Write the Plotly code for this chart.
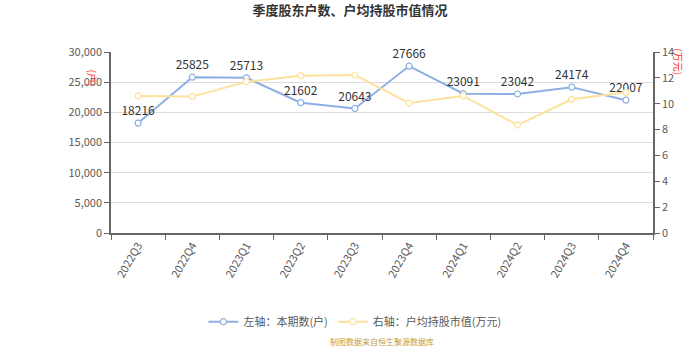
import plotly.graph_objects as go

quarters = ["2022Q3", "2022Q4", "2023Q1", "2023Q2", "2023Q3",
            "2023Q4", "2024Q1", "2024Q2", "2024Q3", "2024Q4"]
holders = [18216, 25825, 25713, 21602, 20643, 27666, 23091, 23042, 24174, 22007]
avg_value = [10.6, 10.55, 11.7, 12.17, 12.22, 10.05, 10.6, 8.35, 10.34, 10.88]

FONT = "Noto Sans CJK SC"
BLUE = "#8cafe3"
YELLOW = "#fde29b"
TICK = "#5a5a5a"

fig = go.Figure()
fig.add_trace(go.Scatter(
    x=quarters, y=holders, name="左轴：本期数(户)",
    mode="lines+markers+text", text=[str(v) for v in holders],
    textposition="top center", textfont=dict(size=12, color="#333333"),
    line=dict(color=BLUE, width=2),
    marker=dict(symbol="circle", size=6, color="white", line=dict(color=BLUE, width=1.2)),
    yaxis="y", cliponaxis=False,
))
fig.add_trace(go.Scatter(
    x=quarters, y=avg_value, name="右轴：户均持股市值(万元)",
    mode="lines+markers",
    line=dict(color=YELLOW, width=2),
    marker=dict(symbol="circle", size=6, color="white", line=dict(color=YELLOW, width=1.2)),
    yaxis="y2",
))

fig.update_layout(
    width=700, height=350,
    margin=dict(l=111, r=47, t=52, b=117),
    paper_bgcolor="white", plot_bgcolor="white",
    font=dict(family=FONT, size=11, color=TICK),
    title=dict(text="<b>季度股东户数、户均持股市值情况</b>", x=0.5, xanchor="center",
               y=0.97, yanchor="middle", font=dict(size=13, color="#333333")),
    xaxis=dict(
        type="category", range=[-0.5, 9.5], tickson="boundaries",
        ticks="outside", ticklen=5, tickcolor="#666666",
        showline=True, linecolor="#666666", linewidth=1.5,
        tickangle=-60, showgrid=False, automargin=False,
        tickfont=dict(size=11, color=TICK),
    ),
    yaxis=dict(
        range=[0, 30000], dtick=5000, tickformat=",",
        ticks="outside", ticklen=5, tickcolor="#666666",
        showline=True, linecolor="#666666", linewidth=1.5,
        showgrid=True, gridcolor="#dddddd", gridwidth=1,
        zeroline=False, automargin=False, tickfont=dict(size=11, color=TICK),
    ),
    yaxis2=dict(
        range=[0, 14], dtick=2, overlaying="y", side="right",
        ticks="outside", ticklen=5, tickcolor="#666666",
        showline=True, linecolor="#666666", linewidth=1.5,
        showgrid=False, zeroline=False, automargin=False,
        tickfont=dict(size=11, color=TICK),
    ),
    legend=dict(orientation="h", x=0.45, xanchor="center", y=-0.49, yanchor="middle",
                font=dict(size=11, color=TICK), itemwidth=30),
    showlegend=True,
)

# Axis unit labels, rotated, in red
fig.add_annotation(text="(户)", xref="paper", yref="paper", x=-0.052, y=0.915,
                   showarrow=False, textangle=90, font=dict(size=10, color="#ff3333"))
fig.add_annotation(text="(万元)", xref="paper", yref="paper", x=1.065, y=1.03,
                   showarrow=False, textangle=90, font=dict(size=10, color="#ff3333"))
# Source note
fig.add_annotation(text="制图数据来自恒生聚源数据库", xref="paper", yref="paper",
                   x=0.5, y=-0.6, yanchor="middle", showarrow=False,
                   font=dict(size=8, color="#c89b3c"))

fig.write_html("out.html")
